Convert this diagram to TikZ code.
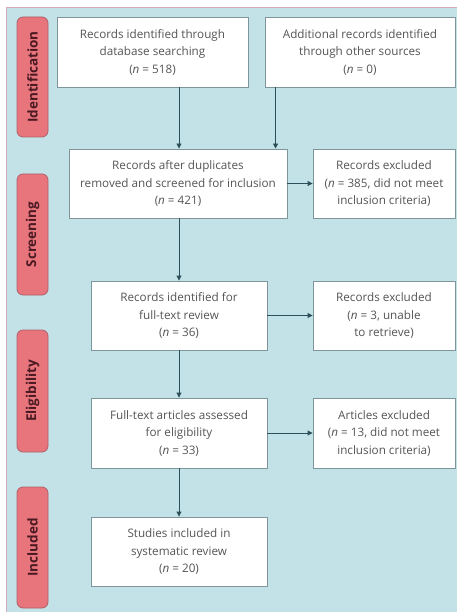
\documentclass[tikz,border=0pt]{standalone}
\usepackage{fontspec}
\setmainfont{Open Sans}
\usetikzlibrary{arrows.meta,calc}
\definecolor{bgblue}{HTML}{C3E2E8}
\definecolor{edgepink}{HTML}{D9A9BE}
\definecolor{labfill}{HTML}{E8747C}
\definecolor{labedge}{HTML}{B0606A}
\definecolor{labtext}{HTML}{4A1A22}
\definecolor{boxedge}{HTML}{7E959C}
\definecolor{arrcol}{HTML}{2C4F5A}
\definecolor{txtcol}{HTML}{555555}
\tikzset{
  stagelabel/.style={draw=labedge, line width=0.8pt, fill=labfill, rounded corners=6pt,
    minimum height=31pt, inner sep=0pt, text=labtext,
    font=\fontsize{13.5}{14}\selectfont\bfseries},
  flowbox/.style={draw=boxedge, line width=0.9pt, fill=white, align=center,
    inner sep=0pt, text=txtcol, font=\fontsize{11.7}{17.5}\selectfont},
  arr/.style={draw=arrcol, line width=0.9pt, -{Triangle[length=5pt,width=5pt]}}
}
\begin{document}
\begin{tikzpicture}[x=1pt,y=1pt]
\useasboundingbox (0,0) rectangle (457,-612);
\fill[white] (0,0) rectangle (457,-612);
\fill[bgblue] (6,-8) rectangle (457,-612);
\draw[edgepink, line width=1pt] (6,-612) -- (6,-8) -- (457,-8);

% stage labels
\node[stagelabel, minimum width=120pt, rotate=90] (l1) at (32.5,-77) {Identification};
\node[stagelabel, minimum width=121pt, rotate=90] (l2) at (32.5,-234.5) {Screening};
\node[stagelabel, minimum width=122pt, rotate=90] (l3) at (32.5,-391) {Eligibility};
\node[stagelabel, minimum width=121pt, rotate=90] (l4) at (32.5,-547.5) {Included};

% boxes
\node[flowbox, minimum width=191pt, minimum height=70pt] (b1) at (152.5,-52)
  {Records identified through\\database searching\\(\textit{n} = 518)};
\node[flowbox, minimum width=190pt, minimum height=70pt] (b2) at (360,-52)
  {Additional records identified\\through other sources\\(\textit{n} = 0)};
\node[flowbox, minimum width=218pt, minimum height=69pt] (b3) at (178,-183.5)
  {Records after duplicates\\removed and screened for inclusion\\(\textit{n} = 421)};
\node[flowbox, minimum width=142pt, minimum height=69pt] (b4) at (384,-183.5)
  {Records excluded\\(\textit{n} = 385, did not meet\\inclusion criteria)};
\node[flowbox, minimum width=176pt, minimum height=69pt] (b5) at (179,-315.5)
  {Records identified for\\full-text review\\(\textit{n} = 36)};
\node[flowbox, minimum width=142pt, minimum height=69pt] (b6) at (384,-315.5)
  {Records excluded\\(\textit{n} = 3, unable\\to retrieve)};
\node[flowbox, minimum width=176pt, minimum height=70pt] (b7) at (179,-433)
  {Full-text articles assessed\\for eligibility\\(\textit{n} = 33)};
\node[flowbox, minimum width=142pt, minimum height=70pt] (b8) at (384,-433)
  {Articles excluded\\(\textit{n} = 13, did not meet\\inclusion criteria)};
\node[flowbox, minimum width=176pt, minimum height=69pt] (b9) at (179,-551.5)
  {Studies included in\\systematic review\\(\textit{n} = 20)};

% connectors
\coordinate (c2) at ($(b2.south west)+(11,0)$);
\draw[arr] (b1.south -| b5.north) -- (b3.north -| b5.north);
\draw[arr] (c2) -- (b3.north -| c2);
\draw[arr] (b3.south -| b5.north) -- (b5.north);
\draw[arr] (b3.east) -- (b4.west);
\draw[arr] (b5.east) -- (b6.west);
\draw[arr] (b5.south) -- (b7.north);
\draw[arr] (b7.east) -- (b8.west);
\draw[arr] (b7.south) -- (b9.north);
\end{tikzpicture}
\end{document}
